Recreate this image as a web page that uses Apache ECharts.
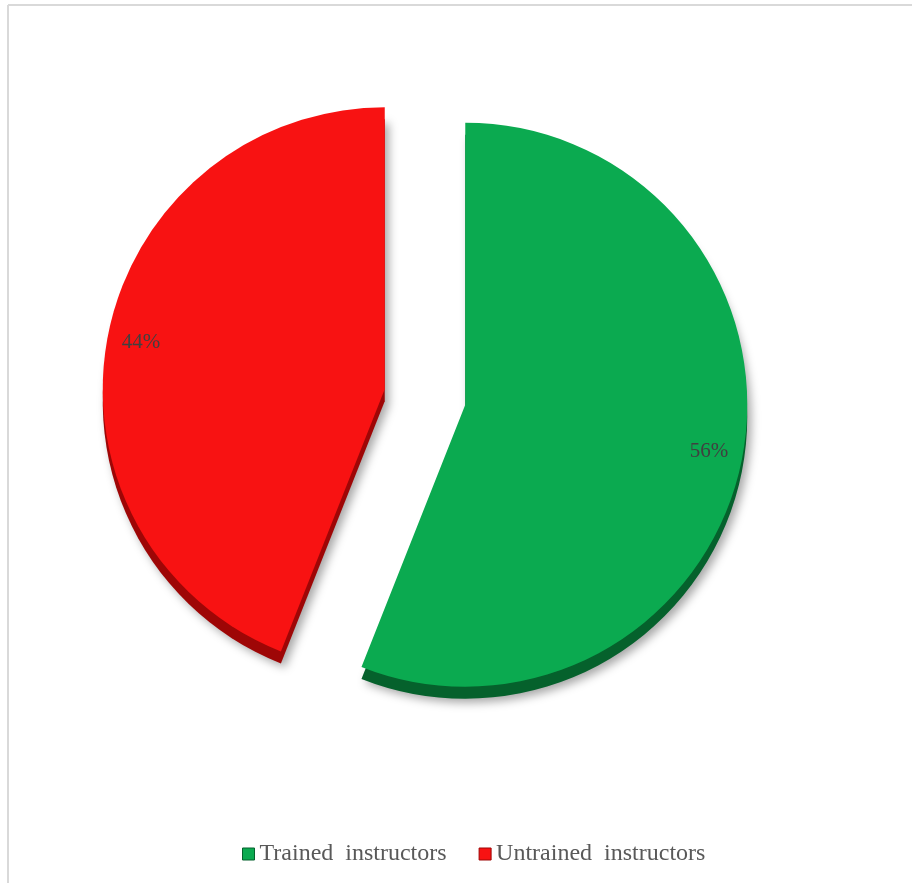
<!DOCTYPE html>
<html><head><meta charset="utf-8">
<script src="https://cdn.jsdelivr.net/npm/echarts@6/dist/echarts.min.js"></script>
<style>html,body{margin:0;padding:0;background:#fff}#c{width:912px;height:883px}</style>
</head><body><div id="c"></div>
<script>
const categories = ['Trained  instructors', 'Untrained  instructors'];
const values = [56, 44];
const faceColors = ['#0BAA50', '#F81212'];
const sideColors = ['#05612C', '#9E0606'];

const chart = echarts.init(document.getElementById('c'));
const CX = 425, CY = 397, R = 282, OFF = 41;
chart.setOption({
  animation: false,
  color: faceColors,
  graphic: [
    { type: 'line', shape: { x1: 8, y1: 5, x2: 912, y2: 5 }, style: { stroke: '#d9d9d9', lineWidth: 2 } },
    { type: 'line', shape: { x1: 8, y1: 5, x2: 8, y2: 883 }, style: { stroke: '#d9d9d9', lineWidth: 2 } }
  ],
  legend: {
    data: categories.map((n, i) => ({ name: n, itemStyle: { color: faceColors[i], borderColor: sideColors[i], borderWidth: 1 } })),
    left: 237, top: 837,
    icon: 'rect', itemWidth: 12, itemHeight: 12, itemGap: 32,
    textStyle: { fontFamily: 'Liberation Serif', fontSize: 24, color: '#595959' },
    selectedMode: false
  },
  series: [
    {
      type: 'pie', silent: true, center: [CX, CY + 12], radius: R, startAngle: 90, clockwise: true,
      selectedMode: 'multiple', selectedOffset: OFF, legendHoverLink: false,
      label: { show: false }, labelLine: { show: false },
      itemStyle: { shadowColor: 'rgba(0,0,0,0.35)', shadowBlur: 10, shadowOffsetX: 4, shadowOffsetY: 4 },
      emphasis: { disabled: true },
      data: categories.map((n, i) => ({ name: n, value: values[i], selected: true, itemStyle: { color: sideColors[i] } }))
    },
    {
      type: 'pie', silent: true, center: [CX, CY], radius: R, startAngle: 90, clockwise: true,
      selectedMode: 'multiple', selectedOffset: OFF,
      label: { show: false }, labelLine: { show: false },
      emphasis: { disabled: true },
      data: categories.map((n, i) => ({ name: n, value: values[i], selected: true, itemStyle: { color: faceColors[i] } }))
    },
    {
      type: 'pie', silent: true, center: [CX, CY], radius: [210, 280], startAngle: 90, clockwise: true,
      selectedMode: 'multiple', selectedOffset: OFF,
      itemStyle: { color: 'rgba(0,0,0,0)' },
      label: { show: true, position: 'inside', formatter: '{d}%', fontFamily: 'Liberation Serif', fontSize: 21, color: '#404040' },
      labelLine: { show: false },
      emphasis: { disabled: true },
      data: categories.map((n, i) => ({ name: n, value: values[i], selected: true,
        label: i === 0 ? { offset: [-3, -15] } : { offset: [4, 0] } }))
    }
  ]
});
</script></body></html>
